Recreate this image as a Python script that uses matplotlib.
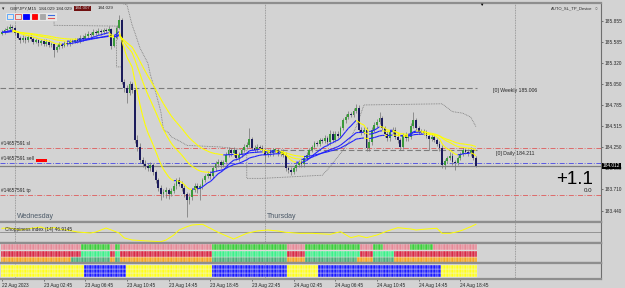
import numpy as np
import pandas as pd
import matplotlib
matplotlib.use("Agg")
import matplotlib.pyplot as plt
from matplotlib.collections import LineCollection
from matplotlib.patches import Rectangle
from matplotlib.transforms import blended_transform_factory

plt.rcParams['font.family'] = ['Liberation Sans', 'DejaVu Sans']

# --- GBPJPY M15, bar 0 = Wed 23 Aug 00:00 ---
first_bar = -5
first_open = 185.69
closes = [
    185.71, 185.74, 185.75, 185.78, 185.77,
    185.70, 185.64, 185.61, 185.64, 185.61, 185.65, 185.63, 185.59, 185.61, 185.57,
    185.60, 185.56, 185.59, 185.55, 185.56, 185.49, 185.52, 185.56, 185.54, 185.57,
    185.56, 185.60, 185.59, 185.61, 185.60, 185.64, 185.63, 185.66, 185.69, 185.68,
    185.71, 185.70, 185.73, 185.71, 185.74, 185.73, 185.75, 185.54, 185.64, 185.77,
    185.87, 185.08, 185.00, 184.94, 185.05, 184.98, 184.34, 184.25, 184.08, 184.03,
    184.01, 183.98, 184.02, 183.93, 183.83, 183.73, 183.65, 183.68, 183.70, 183.65,
    183.69, 183.75, 183.83, 183.78, 183.73, 183.65, 183.57, 183.61, 183.70, 183.75,
    183.71, 183.75, 183.83, 183.88, 183.91, 183.88, 183.98, 184.03, 184.06, 184.02,
    184.06, 184.15, 184.21, 184.17, 184.21, 184.11, 184.15, 184.21, 184.25, 184.28,
    184.35, 184.24, 184.21, 184.25, 184.24, 184.21, 184.15, 184.19, 184.17, 184.21,
    184.21, 184.17, 184.19, 184.15, 183.98, 183.96, 183.93, 183.98, 184.02, 184.06,
    184.03, 184.11, 184.15, 184.21, 184.25, 184.30, 184.29, 184.34, 184.33, 184.36,
    184.31, 184.42, 184.34, 184.42, 184.39, 184.49, 184.59, 184.63, 184.67, 184.66,
    184.71, 184.75, 184.47, 184.44, 184.47, 184.24, 184.31, 184.47, 184.53, 184.57,
    184.62, 184.49, 184.42, 184.36, 184.44, 184.47, 184.38, 184.34, 184.25, 184.40,
    184.36, 184.38, 184.52, 184.59, 184.49, 184.44, 184.45, 184.43, 184.39, 184.35,
    184.38, 184.34, 184.29, 184.24, 184.02, 184.07, 184.11, 184.14, 184.06, 184.05,
    184.11, 184.16, 184.21, 184.19, 184.17, 184.21, 184.11, 184.012,
]
highs = [
    185.74, 185.77, 185.79, 185.82, 185.80,
    185.79, 185.72, 185.66, 185.67, 185.66, 185.68, 185.67, 185.65, 185.64, 185.63,
    185.63, 185.62, 185.62, 185.61, 185.59, 185.58, 185.55, 185.59, 185.58, 185.60,
    185.60, 185.63, 185.63, 185.64, 185.64, 185.67, 185.67, 185.70, 185.73, 185.72,
    185.75, 185.74, 185.76, 185.75, 185.77, 185.77, 185.79, 185.77, 185.66, 185.80,
    185.93, 185.89, 185.11, 185.04, 185.09, 185.08, 185.00, 184.40, 184.30, 184.12,
    184.08, 184.05, 184.06, 184.05, 183.96, 183.86, 183.77, 183.72, 183.74, 183.73,
    183.73, 183.79, 183.86, 183.87, 183.81, 183.76, 183.68, 183.66, 183.73, 183.79,
    183.79, 183.78, 183.86, 183.91, 183.95, 183.94, 184.01, 184.07, 184.10, 184.09,
    184.09, 184.18, 184.25, 184.24, 184.25, 184.23, 184.18, 184.24, 184.29, 184.31,
    184.49, 184.38, 184.27, 184.29, 184.28, 184.27, 184.24, 184.22, 184.22, 184.24,
    184.24, 184.24, 184.22, 184.22, 184.18, 184.01, 183.99, 184.01, 184.05, 184.09,
    184.09, 184.14, 184.18, 184.24, 184.28, 184.33, 184.33, 184.37, 184.37, 184.40,
    184.39, 184.46, 184.45, 184.45, 184.45, 184.52, 184.62, 184.67, 184.71, 184.70,
    184.75, 184.80, 184.78, 184.50, 184.51, 184.50, 184.35, 184.50, 184.57, 184.61,
    184.70, 184.65, 184.52, 184.45, 184.47, 184.50, 184.50, 184.42, 184.37, 184.43,
    184.44, 184.42, 184.55, 184.70, 184.62, 184.52, 184.48, 184.48, 184.46, 184.42,
    184.41, 184.41, 184.37, 184.32, 184.27, 184.10, 184.14, 184.18, 184.17, 184.09,
    184.14, 184.19, 184.25, 184.24, 184.22, 184.25, 184.24, 184.14,
]
lows = [
    185.67, 185.69, 185.72, 185.73, 185.74,
    185.67, 185.62, 185.58, 185.59, 185.58, 185.59, 185.60, 185.56, 185.57, 185.54,
    185.55, 185.53, 185.54, 185.52, 185.52, 185.40, 185.46, 185.50, 185.51, 185.52,
    185.53, 185.54, 185.56, 185.57, 185.57, 185.58, 185.60, 185.61, 185.64, 185.65,
    185.66, 185.67, 185.68, 185.68, 185.69, 185.70, 185.71, 185.50, 185.52, 185.62,
    185.75, 185.05, 184.95, 184.81, 184.91, 184.94, 184.30, 184.20, 184.04, 183.99,
    183.97, 183.94, 183.95, 183.89, 183.79, 183.69, 183.58, 183.61, 183.60, 183.59,
    183.62, 183.66, 183.72, 183.75, 183.69, 183.61, 183.36, 183.52, 183.58, 183.67,
    183.66, 183.57, 183.72, 183.80, 183.85, 183.84, 183.85, 183.95, 184.00, 183.98,
    183.99, 184.03, 184.12, 184.13, 184.14, 184.08, 184.07, 184.12, 184.18, 184.22,
    184.25, 184.21, 184.18, 184.18, 184.21, 184.18, 184.05, 184.12, 184.14, 184.14,
    184.18, 184.14, 184.14, 184.12, 183.95, 183.92, 183.89, 183.90, 183.95, 183.99,
    184.00, 184.00, 184.08, 184.12, 184.18, 184.22, 184.26, 184.26, 184.30, 184.30,
    184.28, 184.28, 184.31, 184.31, 184.36, 184.36, 184.46, 184.56, 184.60, 184.63,
    184.63, 184.68, 184.44, 184.40, 184.41, 184.20, 184.20, 184.28, 184.44, 184.50,
    184.54, 184.46, 184.38, 184.33, 184.33, 184.41, 184.35, 184.30, 184.21, 184.22,
    184.33, 184.32, 184.35, 184.49, 184.46, 184.41, 184.41, 184.40, 184.36, 184.21,
    184.32, 184.31, 184.26, 184.20, 183.98, 183.97, 184.04, 184.08, 184.02, 183.96,
    184.02, 184.08, 184.13, 184.16, 184.14, 184.14, 184.08, 184.00,
]
ma_periods = [10, 24, 40]

# stepped trailing line (dotted), NaN = break
trail_bars = [10, 15, 15, 39, 39, 41, np.nan,
              41, 43, 45, 46, 48, 51, 52, 54, 56, 57, 59, 60, 64, 66, 79, 89,
              89, 95, 118, 120, 126, 128, 131, 134, 164, 166, 168, 172, 175, 177]
trail_price = [185.87, 185.87, 185.80, 185.79, 185.27, 185.27, np.nan,
               186.08, 186.06, 185.80, 185.71, 185.51, 185.32, 185.17, 184.95, 184.70,
               184.47, 184.43, 184.38, 184.31, 184.27, 184.25, 184.21,
               183.85, 183.85, 183.89, 183.96, 184.21, 184.30, 184.505, 184.785,
               184.80, 184.75, 184.70, 184.68, 184.63, 184.51]

weekly_level = 185.006
daily_level = 184.211
sl_level = 184.24
entry_level = 184.04
tp_level = 183.64
last_price = 184.012
price_ticks = [185.855, 185.585, 185.320, 185.050, 184.785, 184.515, 184.250, 183.980, 183.710, 183.440]

# choppiness index (14)
chop_bars = [-5, -2, 2, 7, 10, 12, 15, 17, 20, 24, 29, 31, 35, 38, 40, 42, 45, 51, 56, 58,
             61, 63, 66, 68, 72, 75, 78, 81, 84, 86, 89, 93, 97, 101, 104, 109, 114, 121,
             125, 129, 132, 135, 139, 143, 147, 152, 154, 158, 162, 164, 167, 170, 172, 175, 177]
chop_vals = [57.4, 58.0, 54.0, 58.0, 60.0, 56.0, 59.0, 56.0, 54.0, 50.0, 48.0, 50.0, 58.0, 52.0,
             48.0, 38.0, 34.0, 32.0, 30.6, 34.0, 44.0, 54.0, 60.6, 64.0, 65.4, 57.4, 49.4, 42.6,
             36.0, 40.6, 47.4, 52.0, 54.0, 52.0, 49.4, 47.4, 47.4, 45.4, 50.6, 38.6, 42.6, 38.6,
             44.0, 52.0, 58.6, 56.0, 54.0, 56.0, 57.4, 47.4, 47.4, 50.6, 54.0, 60.6, 65.4]
chop_level = 50.0

# multi-timeframe trend rows: run lengths and state (1 = up)
top_len = [31, 11, 2, 2, 35, 29, 7, 21, 5, 4, 10, 9, 17]
top_state = [0, 1, 0, 1, 0, 1, 0, 1, 0, 1, 0, 1, 0]
mid_len = [31, 11, 2, 2, 35, 29, 7, 21, 5, 8, 32]
mid_state = [0, 1, 0, 1, 0, 1, 0, 1, 0, 1, 0]
bot_len = [27, 15, 2, 2, 35, 29, 7, 20, 6, 8, 32]
bot_state = [0, 1, 0, 1, 0, 1, 0, 1, 0, 1, 0]
blk_len = [32, 16, 33, 29, 12, 47, 14]
blk_state = [0, 1, 0, 1, 0, 1, 0]

time_ticks = [-5, 11, 27, 43, 59, 75, 91, 107, 123, 139, 155, 171]
time_labels = ['22 Aug 2023', '23 Aug 02:45', '23 Aug 06:45', '23 Aug 10:45', '23 Aug 14:45',
               '23 Aug 18:45', '23 Aug 22:45', '24 Aug 02:45', '24 Aug 06:45', '24 Aug 10:45',
               '24 Aug 14:45', '24 Aug 18:45']
day_starts = [0, 96, 192]
day_names = ['Wednesday', 'Thursday']

# --- style ---
BG = '#d3d3d3'
SEP = '#8e8e8e'
TXT = '#262626'
XLIM = (-5.76, 225.04)

closes = np.array(closes)
bars = np.arange(first_bar, first_bar + len(closes))
opens = np.r_[first_open, closes[:-1]]

fig = plt.figure(figsize=(6.25, 2.88), dpi=100)
fig.patch.set_facecolor(BG)
W = 601 / 625
H = 288
ax = fig.add_axes([0, 66 / H, W, 219 / H])
ax_chop = fig.add_axes([0, 45 / H, W, 21 / H])
ax_row = fig.add_axes([0, 25 / H, W, 20 / H])
ax_blk = fig.add_axes([0, 9 / H, W, 16 / H])

for a in (ax, ax_chop, ax_row, ax_blk):
    a.set_facecolor(BG)
    a.set_xlim(*XLIM)
    a.spines['left'].set_visible(False)
    a.spines['right'].set_color('#6e6e6e')
    a.spines['right'].set_linewidth(0.8)
    for s in ('top', 'bottom'):
        a.spines[s].set_color(SEP)
        a.spines[s].set_linewidth(1.6)
    a.tick_params(axis='x', bottom=False, labelbottom=False)
    a.yaxis.tick_right()
    a.tick_params(axis='y', labelsize=3.4, length=1.5, width=0.4, pad=1, colors=TXT)
    for d in day_starts:
        a.axvline(d, color='#8a8a8a', lw=0.6, ls=(0, (1, 1)), zorder=1)

# --- main price pane ---
ax.set_ylim(183.294, 186.084)
ax.set_yticks(price_ticks)
ax.set_yticklabels([f'{v:.3f}' for v in price_ticks])

ax.hlines(weekly_level, XLIM[0], bars[-1] + 0.5, color='#7c7c7c', lw=0.8, ls=(0, (5, 2.5)), zorder=2)
ax.hlines(daily_level, day_starts[1], bars[-1] + 0.5, color='#7c7c7c', lw=0.8, ls=(0, (5, 2.5)), zorder=2)
ax.axhline(sl_level, color='#e05a5a', lw=0.6, ls=(0, (6, 2, 1, 2)), zorder=2)
ax.axhline(tp_level, color='#e05a5a', lw=0.6, ls=(0, (6, 2, 1, 2)), zorder=2)
ax.axhline(entry_level, color='#4646e6', lw=0.6, ls=(0, (6, 2, 1, 2)), zorder=2)
ax.axhline(last_price, color='#808080', lw=0.9, zorder=2)

ax.plot(trail_bars, trail_price, color='#7a7a7a', lw=0.6, ls=(0, (1, 1)), zorder=2)

up = closes >= opens
body_col = np.where(up, '#3a9a3a', '#1c1c5c')
ax.vlines(bars, lows, highs, color='#7a7a7a', lw=0.55, zorder=3)
ax.bar(bars, np.maximum(np.abs(closes - opens), 0.012), bottom=np.minimum(opens, closes),
       width=0.7, color=body_col, lw=0, zorder=4)

close_s = pd.Series(closes)
for p in ma_periods:
    ema = close_s.ewm(span=p, adjust=False).mean().values
    pts = np.column_stack([bars, ema])
    segs = np.stack([pts[:-1], pts[1:]], axis=1)
    cols = np.where(np.diff(ema) >= 0, '#1f1fff', '#ffff00')
    ax.add_collection(LineCollection(segs, colors=cols, linewidths=0.8, zorder=5))

bl = blended_transform_factory(ax.transAxes, ax.transData)
ax.text(1.003, last_price, f'{last_price:.3f}', transform=bl, fontsize=3.4, color='white',
        va='center', ha='left', bbox=dict(fc='black', ec='none', pad=0.4), zorder=10, clip_on=False)

ax.text(-5.2, sl_level + 0.025, '#14657591 sl', fontsize=3.4, color=TXT, va='bottom')
ax.text(-5.2, entry_level + 0.025, '#14657591 sell', fontsize=3.4, color=TXT, va='bottom')
ax.add_patch(Rectangle((8.1, entry_level + 0.015), 4.2, 0.045, color='#ff0000', lw=0, zorder=6))
ax.text(-5.2, tp_level + 0.025, '#14657591 tp', fontsize=3.4, color=TXT, va='bottom')
ax.text(183.6, weekly_level - 0.04, f'[0] Weekly {weekly_level:.3f}', fontsize=3.7, color=TXT, va='center')
ax.text(184.7, daily_level - 0.04, f'[0] Daily {daily_level:.3f}', fontsize=3.7, color=TXT, va='center')
ax.text(222.0, 183.83, '+1.1', fontsize=13.5, color='black', ha='right', va='center')
ax.text(221.5, 183.70, '0.0', fontsize=4.4, color=TXT, ha='right', va='center')

bx = blended_transform_factory(ax.transData, ax.transAxes)
for d, name in zip(day_starts, day_names):
    ax.text(d + 0.8, 0.008, name, transform=bx, fontsize=5, color='#4c5a68', va='bottom')

# header
ax.text(0.004, 0.985, '\u25be', transform=ax.transAxes, fontsize=3.5, color=TXT, va='top')
ax.text(0.016, 0.985, 'GBPJPY,M15  184.029 184.029', transform=ax.transAxes, fontsize=3.2,
        color=TXT, va='top')
ax.text(0.124, 0.985, '184.007', transform=ax.transAxes, fontsize=3.2, color='#cccccc', va='top',
        bbox=dict(fc='#701010', ec='none', pad=0.4))
ax.text(0.162, 0.985, '184.029', transform=ax.transAxes, fontsize=3.2, color=TXT, va='top')
ax.text(0.985, 0.985, 'AUTO_SL_TP_Device', transform=ax.transAxes, fontsize=3.0, color=TXT,
        va='top', ha='right')
ax.text(0.995, 0.985, '\u25cb', transform=ax.transAxes, fontsize=3.5, color='#555555', va='top', ha='right')
ax.text(0.8, 1.0, '\u25bc', transform=ax.transAxes, fontsize=3.2, color='black', va='top', ha='center',
        clip_on=False)

# toolbar squares
icon_style = [('none', '#4aa0ff'), ('none', '#e05050'), ('#0000ff', '#0000ff'),
              ('#ff0000', '#ff0000'), ('#a8a8a8', '#a8a8a8')]
for k, (fc, ec) in enumerate(icon_style):
    ax.add_patch(Rectangle((0.012 + k * 0.0135, 0.925), 0.009, 0.025, transform=ax.transAxes,
                           fc=fc, ec=ec, lw=0.6, zorder=8))
ax.add_patch(Rectangle((0.01, 0.92), 0.085, 0.035, transform=ax.transAxes, fc='#e6e6e6',
                       ec='none', zorder=7))
ax.plot([0.0805, 0.0895], [0.945, 0.945], transform=ax.transAxes, color='#3a6ae0', lw=0.8, zorder=8)
ax.plot([0.0805, 0.0895], [0.932, 0.932], transform=ax.transAxes, color='#e05050', lw=0.8, zorder=8)

# --- choppiness pane ---
ax_chop.set_ylim(28, 70)
ax_chop.set_yticks([])
ax_chop.axhline(chop_level, color='#8a8a8a', lw=0.6, zorder=1)
ax_chop.plot(chop_bars, chop_vals, color='#ffff00', lw=0.7, zorder=3)
ax_chop.text(0.008, 0.62, 'Choppiness index (14) 46.9145', transform=ax_chop.transAxes,
             fontsize=3.4, color=TXT, va='center')

# --- trend rows ---
ax_row.set_ylim(0, 20)
ax_row.set_yticks([])
row_specs = [(bot_len, bot_state, 0.3, ('#f5a623', '#4cb07a')),
             (mid_len, mid_state, 6.5, ('#d82a46', '#3cf28c')),
             (top_len, top_state, 12.7, ('#e58a98', '#3ccf3c'))]
for lens, states, y0, (c_dn, c_up) in row_specs:
    st = np.repeat(states, lens)
    cols = np.where(st == 1, c_up, c_dn)
    ax_row.bar(bars, 5.9, bottom=y0, width=1.0, color=cols, edgecolor='#f2e8e8', lw=0.25, zorder=2)

# --- blue / yellow block pane ---
ax_blk.set_ylim(0, 16)
ax_blk.set_yticks([])
blk = np.repeat(blk_state, blk_len)
blk_cols = np.where(blk == 1, '#1a1aff', '#ffff1a')
for y0 in (2.0, 6.0, 10.0):
    ax_blk.bar(bars, 4.0, bottom=y0, width=1.0, color=blk_cols, edgecolor='#f4f4f4', lw=0.25, zorder=2)

ax_blk.set_xticks(time_ticks)
ax_blk.set_xticklabels(time_labels)
ax_blk.tick_params(axis='x', bottom=True, labelbottom=True, labelsize=3.4, length=1.5, width=0.4,
                   pad=1.2, colors=TXT)
for lab in ax_blk.get_xticklabels():
    lab.set_ha('left')

fig.savefig('out.png', dpi=100, facecolor=BG)
